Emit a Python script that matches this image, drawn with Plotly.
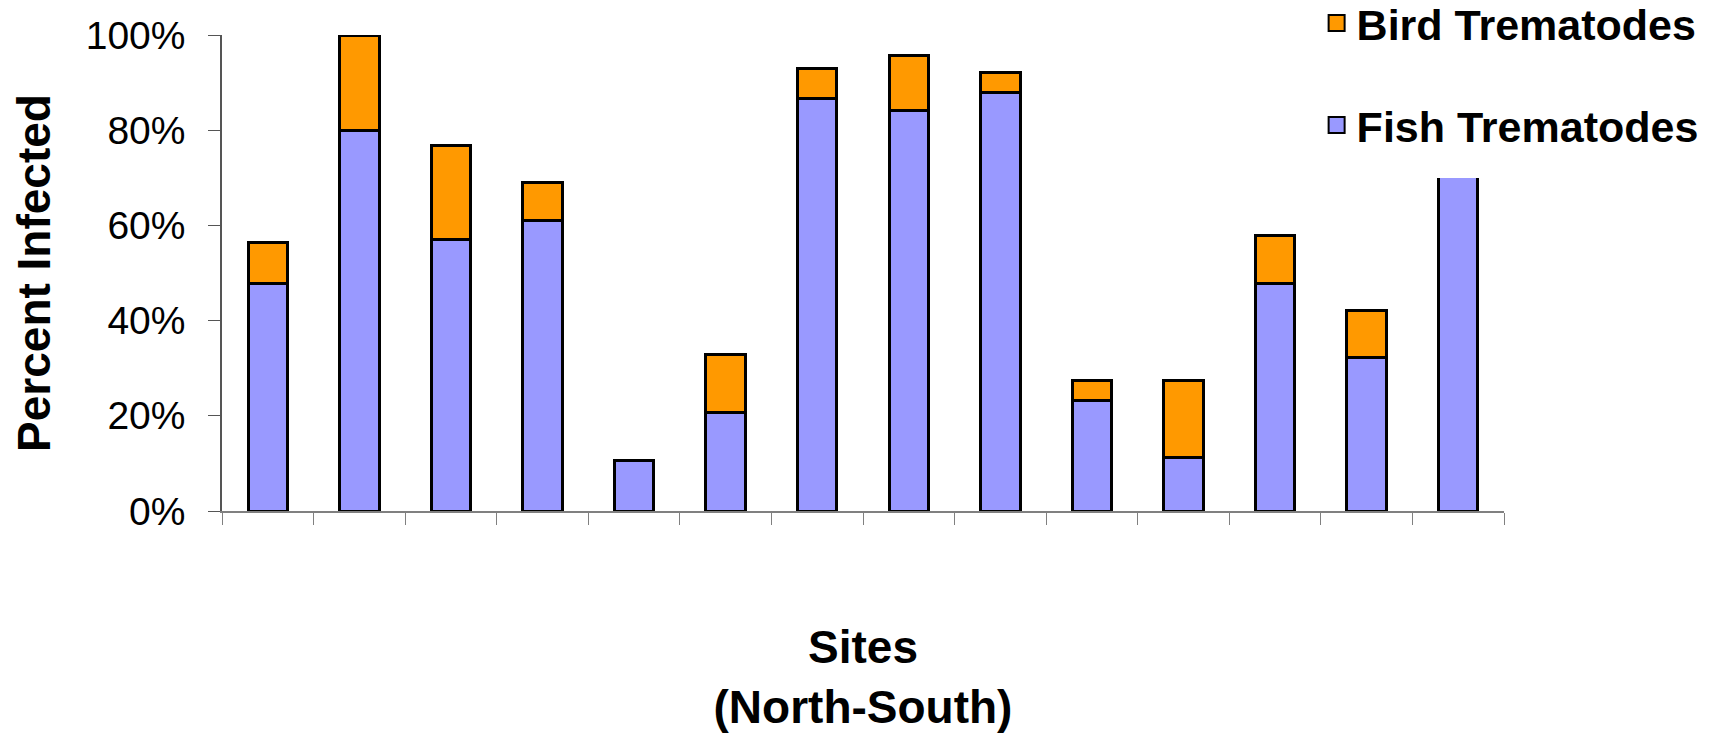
import plotly.graph_objects as go

sites = [f"Site {i}" for i in range(1, 15)]
fish = [0.477, 0.800, 0.571, 0.611, 0.106, 0.207, 0.866, 0.841, 0.880, 0.233, 0.113, 0.477, 0.323, 0.97]
bird = [0.088, 0.200, 0.196, 0.080, 0.000, 0.122, 0.063, 0.115, 0.042, 0.041, 0.161, 0.101, 0.099, 0.000]

FONT = "Liberation Sans, Arial, sans-serif"
FISH_C = "#9999FF"
BIRD_C = "#FF9900"

fig = go.Figure()
fig.add_trace(go.Bar(x=sites, y=fish, name="Fish Trematodes", marker=dict(color=FISH_C, line=dict(color="black", width=3)),
                     showlegend=False))
fig.add_trace(go.Bar(x=sites, y=bird, name="Bird Trematodes", marker=dict(color=BIRD_C, line=dict(color="black", width=3)),
                     showlegend=False))
# legend entries
fig.add_trace(go.Scatter(x=[None], y=[None], mode="markers", name="Bird Trematodes", legendgroup="b",
                         marker=dict(symbol="square", size=22, color=BIRD_C, line=dict(color="black", width=2))))
fig.add_trace(go.Scatter(x=[None], y=[None], mode="markers", name="Fish Trematodes", legendgroup="f",
                         marker=dict(symbol="square", size=22, color=FISH_C, line=dict(color="black", width=2))))

fig.update_layout(
    width=1711, height=727,
    margin=dict(l=214, r=215, t=27, b=224, autoexpand=False),
    paper_bgcolor="white", plot_bgcolor="white",
    barmode="stack", bargap=0.57,
    font=dict(family=FONT, color="black"),
    showlegend=True,
    legend=dict(x=0.8398, xanchor="left", y=0.7005, yanchor="bottom",
                bgcolor="white", bordercolor="white", borderwidth=18,
                traceorder="grouped", tracegroupgap=43,
                font=dict(family=FONT, size=43, color="black", weight="bold"), itemsizing="trace"),
    xaxis=dict(type="category", range=[-0.5, 13.5], showticklabels=False, ticks="outside", ticklen=12,
               tickson="boundaries", tickcolor="#808080", showline=True, linecolor="#808080", linewidth=1.5,
               showgrid=False, zeroline=False, automargin=False,
               title=dict(text="<b>Sites<br>(North-South)</b>", font=dict(family=FONT, size=46), standoff=119)),
    yaxis=dict(range=[0, 1], tickformat=".0%", tickvals=[0, 0.2, 0.4, 0.6, 0.8, 1.0], ticks="outside", ticklen=12,
               tickcolor="#555", showline=True, linecolor="#555", linewidth=1.5, showgrid=False, zeroline=False,
               automargin=False,
               tickfont=dict(family=FONT, size=39), ticklabelstandoff=15,
               title=dict(text="<b>Percent Infected</b>", font=dict(family=FONT, size=46), standoff=25)),
)

fig.write_html("out.html")
